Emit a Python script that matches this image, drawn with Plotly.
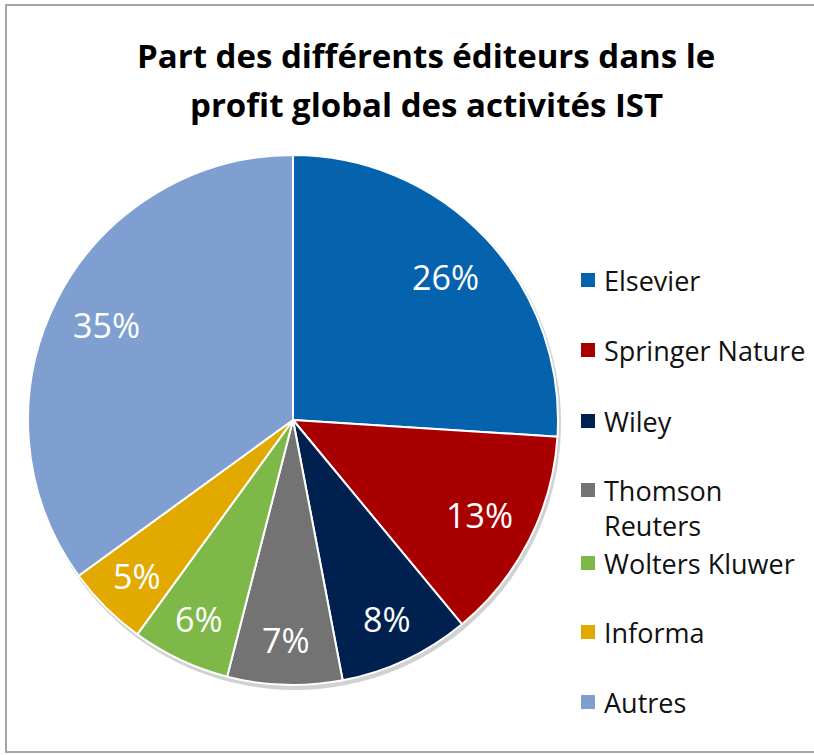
import math
import plotly.graph_objects as go

# ---- data ----
labels = ["Elsevier", "Springer Nature", "Wiley", "Thomson Reuters",
          "Wolters Kluwer", "Informa", "Autres"]
legend_text = ["Elsevier", "Springer Nature", "Wiley", "Thomson<br>Reuters",
               "Wolters Kluwer", "Informa", "Autres"]
values = [26, 13, 8, 7, 6, 5, 35]
colors = ["#0563AE", "#A80000", "#00204F", "#737373", "#7DB849", "#E2A900", "#7F9FD1"]
title_lines = ["Part des différents éditeurs dans le", "profit global des activités IST"]

W, H = 814, 755
CX, CY, R = 293, 420, 265  # pie centre / radius in pixels
FONT = "Open Sans"

fig = go.Figure()
fig.add_trace(go.Pie(
    labels=labels, values=values, sort=False, direction="clockwise", rotation=0,
    marker=dict(colors=colors, line=dict(color="white", width=2)),
    textinfo="none", hoverinfo="label+percent", showlegend=False,
    domain=dict(x=[(CX - R) / W, (CX + R) / W], y=[1 - (CY + R) / H, 1 - (CY - R) / H]),
))

annotations = []
shapes = []
# shadow
shapes.append(dict(type="circle", xref="paper", yref="paper", layer="below",
                   x0=(CX - R + 1) / W, x1=(CX + R + 3) / W,
                   y0=1 - (CY + R + 5) / H, y1=1 - (CY - R + 1) / H,
                   fillcolor="rgba(0,0,0,0.18)", line=dict(width=0)))
# percentage labels
total = sum(values)
cum = 0
for v in values:
    mid = (cum + v / 2) / total * 2 * math.pi
    cum += v
    rr = R * (0.79 if v > 10 else 0.83)
    px = CX + rr * math.sin(mid)
    py = CY - rr * math.cos(mid)
    annotations.append(dict(x=px / W, y=1 - py / H, xref="paper", yref="paper",
                            xanchor="center", yanchor="middle",
                            text=f"{round(v / total * 100)}%", showarrow=False,
                            font=dict(family=FONT, size=34, color="white")))

# title (two centred lines)
for i, line in enumerate(title_lines):
    annotations.append(dict(x=426 / W, y=1 - (56 + 48 * i) / H, xref="paper", yref="paper",
                            xanchor="center", yanchor="middle", text=line, showarrow=False,
                            font=dict(family=FONT, size=33, color="#000000", weight="bold")))

# manual legend
leg_y = [280, 350, 421, 490, 563, 632, 702]
for lab, col, y in zip(legend_text, colors, leg_y):
    shapes.append(dict(type="rect", xref="paper", yref="paper",
                       x0=581 / W, x1=595 / W, y0=1 - (y + 7) / H, y1=1 - (y - 7) / H,
                       fillcolor=col, line=dict(width=0)))
    annotations.append(dict(x=603 / W, y=1 - (y - 19) / H, xref="paper", yref="paper",
                            xanchor="left", yanchor="top", align="left",
                            text=lab, showarrow=False, borderpad=0,
                            font=dict(family=FONT, size=27, color="#111111")))

# border
shapes.append(dict(type="rect", xref="paper", yref="paper",
                   x0=6 / W, x1=1.05, y0=1 - 752 / H, y1=1 - 5 / H,
                   line=dict(color="#A6A6A6", width=2), fillcolor="rgba(0,0,0,0)"))

fig.update_layout(
    width=W, height=H, margin=dict(l=0, r=0, t=0, b=0),
    paper_bgcolor="white", plot_bgcolor="white",
    annotations=annotations, shapes=shapes,
)

fig.write_html("out.html")
